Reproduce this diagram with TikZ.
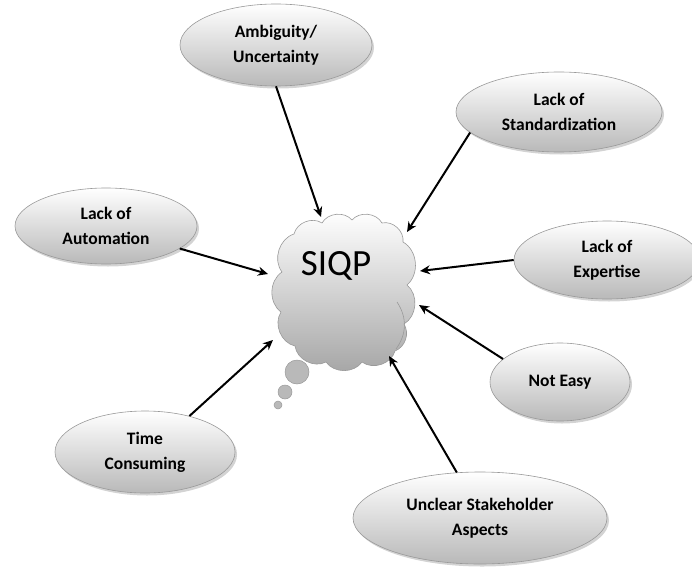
\documentclass[tikz,border=0pt]{standalone}
\usepackage{fontspec}
\setmainfont{Carlito}
\usetikzlibrary{shapes.geometric,arrows.meta,shadows}
\begin{document}
\begin{tikzpicture}[x=1pt,y=-1pt,
  oval/.style={ellipse, draw=gray!80, line width=0.6pt, top color=white, bottom color=gray!55,
    inner sep=0pt, align=center, font=\fontsize{17.5}{25}\selectfont\bfseries,
    drop shadow={opacity=0.35, shadow xshift=2pt, shadow yshift=-2.5pt}},
  bubble/.style={circle, draw=gray!80, line width=0.5pt, fill=gray!55, inner sep=0pt},
  puff/.style={bend left=55},
  arr/.style={-{Stealth[length=10pt,width=9pt]}, line width=2pt, black}]
\useasboundingbox (0,0) rectangle (692,567);
% cloud
\draw[draw=gray!80, line width=0.6pt, top color=white, bottom color=gray!70]
  (282,272) to[puff] (294,234) to[puff] (322,223) to[puff] (352,220) to[puff] (382,223)
  to[puff] (403,242) to[puff] (407,285) to[puff] (404,324) to[bend left=50] (395,351)
  to[puff] (362,362) to[puff] (326,362) to[puff] (295,346) to[puff] (281,312)
  to[puff] cycle;
\draw[gray!80, line width=0.6pt] (397,302) to[bend left=35] (396,349);
\node[font=\fontsize{37}{40}\selectfont] (siqp) at (336,266) {SIQP};
\coordinate (cA) at (321,217);
\coordinate (cB) at (407,232);
\coordinate (cC) at (268,274);
\coordinate (cD) at (420,271);
\coordinate (cE) at (419,305);
\coordinate (cF) at (273,340);
\coordinate (cG) at (389,356);
\node[bubble, minimum size=24pt] (b1) at (297,372) {};
\node[bubble, minimum size=14pt] (b2) at (285,392) {};
\node[bubble, minimum size=8pt] (b3) at (278,405) {};

\node[oval, minimum width=192pt, minimum height=82pt] (amb) at (276,45) {Ambiguity/\\Uncertainty};
\node[oval, minimum width=206pt, minimum height=80pt] (std) at (559,112) {Lack of\\Standardization};
\node[oval, minimum width=182pt, minimum height=76pt] (aut) at (106,226) {Lack of\\Automation};
\node[oval, minimum width=186pt, minimum height=78pt] (exp) at (607,260) {Lack of\\Expertise};
\node[oval, minimum width=140pt, minimum height=78pt] (ne) at (560,382) {Not Easy};
\node[oval, minimum width=180pt, minimum height=82pt] (tc) at (145,452) {Time\\Consuming};
\node[oval, minimum width=254pt, minimum height=92pt] (un) at (480,518) {Unclear Stakeholder\\Aspects};

\draw[arr] (amb.south) -- (cA);
\draw[arr] (std.193) -- (cB);
\draw[arr] (aut.-17) -- (cC);
\draw[arr] (exp.west) -- (cD);
\draw[arr] (ne.158) -- (cE);
\draw[arr] (tc.39) -- (cF);
\draw[arr] (un.117) -- (cG);
\end{tikzpicture}
\end{document}
